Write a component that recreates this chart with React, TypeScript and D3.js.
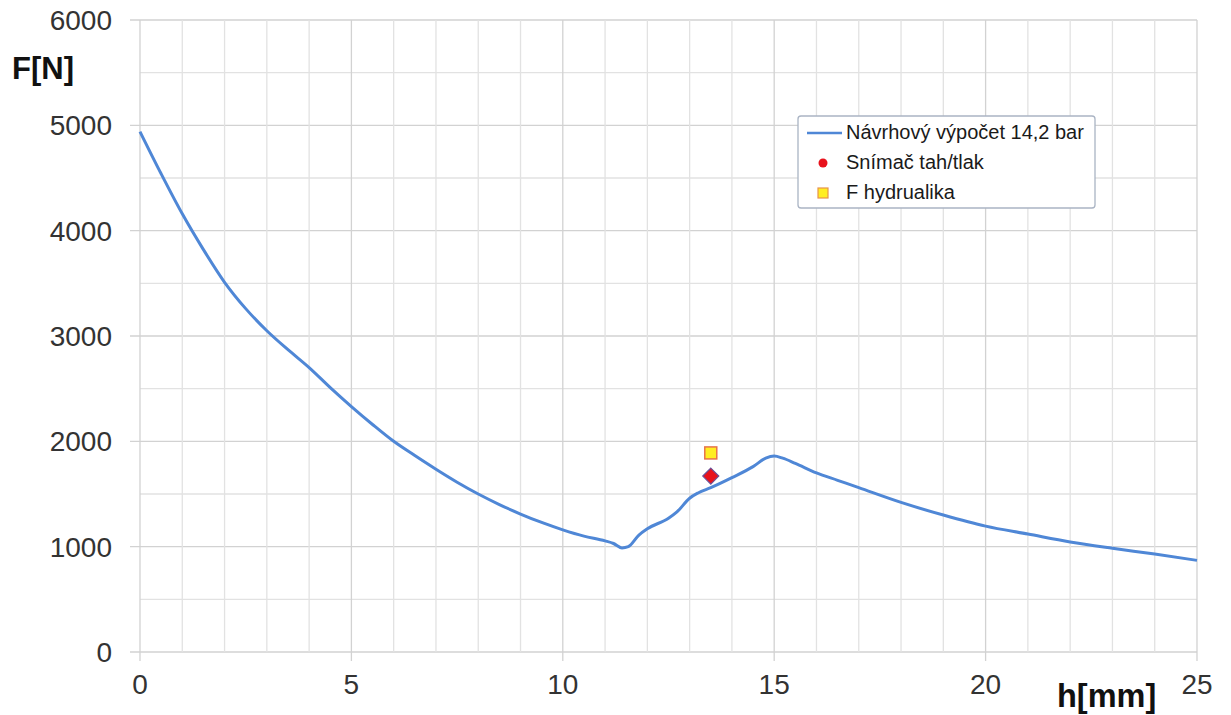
import React from "react";
import * as d3 from "d3";

// Calculated force curve: stroke h [mm] vs force F [N]
const hValues = [0, 0.5, 1, 1.5, 2, 2.5, 3, 3.5, 4, 4.5, 5, 5.5, 6, 6.5, 7, 7.5, 8, 8.5, 9, 9.5, 10, 10.5, 11, 11.2, 11.4, 11.55, 11.8, 12, 12.5, 12.7, 13, 13.2, 13.5, 14, 14.5, 14.8, 15, 15.2, 15.5, 16, 16.5, 17, 18, 19, 20, 21, 22, 23, 24, 25];
const fValues = [4940, 4540, 4160, 3820, 3510, 3260, 3050, 2870, 2700, 2510, 2330, 2160, 2000, 1865, 1735, 1612, 1500, 1400, 1310, 1230, 1160, 1100, 1055, 1030, 988, 1000, 1110, 1170, 1270, 1330, 1460, 1510, 1560, 1655, 1760, 1840, 1860, 1840, 1790, 1700, 1630, 1560, 1420, 1300, 1195, 1120, 1045, 985, 930, 870];

// Measured points
const sensorPoint = { h: 13.5, f: 1670 };
const hydraulicPoint = { h: 13.5, f: 1890 };

const xTicks = [0, 5, 10, 15, 20, 25];
const yTicks = [0, 1000, 2000, 3000, 4000, 5000, 6000];
const legendLabels = ["Návrhový výpočet 14,2 bar", "Snímač tah/tlak", "F hydrualika"];

const W = 1231;
const H = 715;

export default function App() {
  const x = d3.scaleLinear().domain([0, 25]).range([140, 1197]);
  const y = d3.scaleLinear().domain([0, 6000]).range([652, 20]);

  const pts: [number, number][] = hValues.map((h, i) => [h, fValues[i]]);
  const line = d3
    .line<[number, number]>()
    .x((d) => x(d[0]))
    .y((d) => y(d[1]))
    .curve(d3.curveMonotoneX);

  const minorX = d3.range(0, 26, 1);
  const minorY = d3.range(0, 6001, 500);
  const font = "'Liberation Sans', Arial, sans-serif";

  const sx = x(sensorPoint.h);
  const sy = y(sensorPoint.f);
  const hx = x(hydraulicPoint.h);
  const hy = y(hydraulicPoint.f);

  return (
    <div style={{ position: "absolute", left: 0, top: 0 }}>
      <svg width={W} height={H} style={{ display: "block", background: "#fff" }}>
        {/* grid */}
        {minorY.map((v) => {
          const major = v % 1000 === 0;
          return (
            <line
              key={"gy" + v}
              x1={major ? 130 : x(0)}
              x2={x(25)}
              y1={y(v)}
              y2={y(v)}
              stroke={major ? "#d2d2d2" : "#e2e2e2"}
              strokeWidth={1.3}
            />
          );
        })}
        {minorX.map((v) => {
          const major = v % 5 === 0;
          return (
            <line
              key={"gx" + v}
              x1={x(v)}
              x2={x(v)}
              y1={y(6000)}
              y2={major ? 661 : y(0)}
              stroke={major ? "#d2d2d2" : "#e2e2e2"}
              strokeWidth={1.3}
            />
          );
        })}

        {/* y tick labels */}
        {yTicks.map((v) => (
          <text
            key={"yl" + v}
            x={112}
            y={y(v)}
            dy="0.36em"
            textAnchor="end"
            fontFamily={font}
            fontSize={28}
            fill="#333"
          >
            {v}
          </text>
        ))}
        {/* x tick labels */}
        {xTicks.map((v) => (
          <text
            key={"xl" + v}
            x={x(v)}
            y={694}
            textAnchor="middle"
            fontFamily={font}
            fontSize={28}
            fill="#333"
          >
            {v}
          </text>
        ))}

        {/* axis titles */}
        <text x={12} y={79} fontFamily={font} fontSize={31} fontWeight="bold" fill="#111">
          F[N]
        </text>
        <text x={1057} y={707} fontFamily={font} fontSize={32.5} fontWeight="bold" fill="#111">
          h[mm]
        </text>

        {/* calculated curve */}
        <path d={line(pts) ?? ""} fill="none" stroke="#4f87d6" strokeWidth={3} strokeLinejoin="round" />

        {/* measured points */}
        <rect x={hx - 6} y={hy - 6} width={12} height={12} fill="#ffee22" stroke="#e8744a" strokeWidth={1.5} />
        <path
          d={`M${sx},${sy - 8} L${sx + 8},${sy} L${sx},${sy + 8} L${sx - 8},${sy} Z`}
          fill="#e8121c"
          stroke="#6a4f96"
          strokeWidth={1.2}
        />

        {/* legend */}
        <rect x={798} y={116} width={297} height={92} rx={3} fill="#fff" stroke="#aab4c4" strokeWidth={1.3} />
        <line x1={807} x2={842} y1={133} y2={133} stroke="#4f87d6" strokeWidth={2.5} />
        <text x={846} y={139} fontFamily={font} fontSize={20} fill="#1a1a1a">
          {legendLabels[0]}
        </text>
        <circle cx={823} cy={163} r={4.5} fill="#e8121c" />
        <text x={846} y={169} fontFamily={font} fontSize={20} fill="#1a1a1a">
          {legendLabels[1]}
        </text>
        <rect x={818} y={188} width={10} height={10} fill="#ffee22" stroke="#e8944a" strokeWidth={1.2} />
        <text x={846} y={199} fontFamily={font} fontSize={20} fill="#1a1a1a">
          {legendLabels[2]}
        </text>
      </svg>
    </div>
  );
}
